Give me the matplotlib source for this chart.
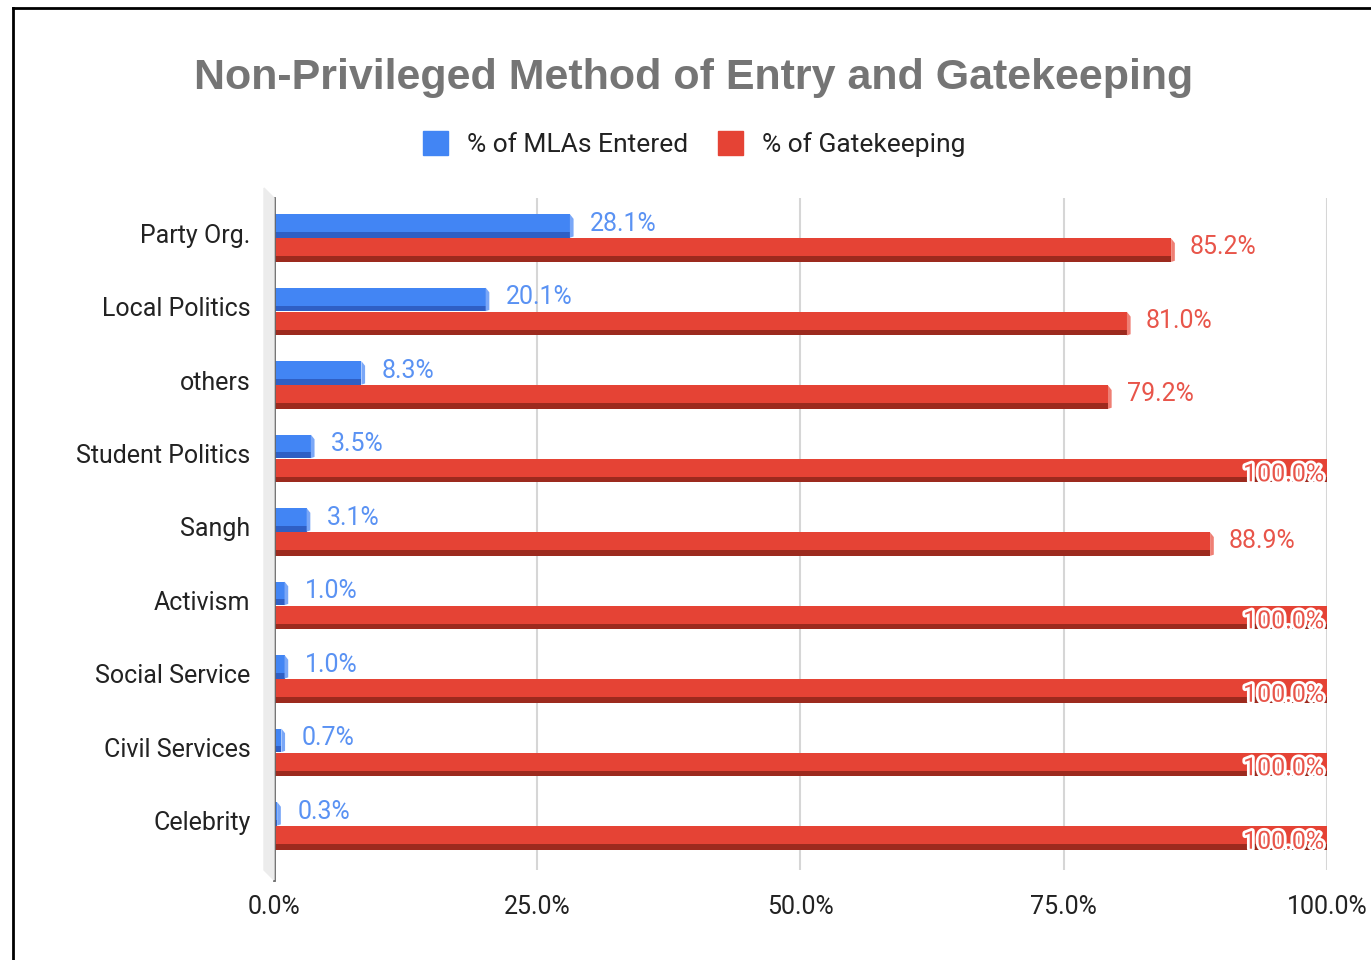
import matplotlib
matplotlib.use("Agg")
import matplotlib.pyplot as plt
import matplotlib.patheffects as pe
import matplotlib.transforms as mtransforms
from matplotlib.patches import Polygon
from matplotlib.lines import Line2D

categories = ["Party Org.", "Local Politics", "others", "Student Politics", "Sangh",
              "Activism", "Social Service", "Civil Services", "Celebrity"]
mlas_entered = [28.1, 20.1, 8.3, 3.5, 3.1, 1.0, 1.0, 0.7, 0.3]
gatekeeping = [85.2, 81.0, 79.2, 100.0, 88.9, 100.0, 100.0, 100.0, 100.0]
x_ticks = [0, 25, 50, 75, 100]

BLUE, BLUE_DARK, BLUE_CAP, BLUE_TXT = "#4285f4", "#2f5fc4", "#7aa7f7", "#5a92f3"
RED, RED_DARK, RED_CAP, RED_TXT = "#e54335", "#9c2a1e", "#ef7f74", "#e8554a"

plt.rcParams["font.family"] = ["Roboto", "DejaVu Sans"]

fig = plt.figure(figsize=(13.71, 9.6), dpi=100)
ax = fig.add_axes([274 / 1371, 1 - 870 / 960, (1327 - 274) / 1371, (870 - 198) / 960])

H = 0.32
OFF = 0.165
y = list(range(len(categories)))


def bar3d(ax, ys, vals, color, dark, cap):
    ax.barh(ys, vals, height=H, color=color, linewidth=0, zorder=3)
    # darker lower edge gives the bars some depth
    ax.barh([v + H * 0.5 - H * 0.12 for v in ys], vals, height=H * 0.24,
            color=dark, linewidth=0, zorder=4)
    for yy, v in zip(ys, vals):
        top, bot = yy - H / 2, yy + H / 2
        ax.add_patch(Polygon([(v, top), (v + 0.35, top + H * 0.2), (v + 0.35, bot - H * 0.05), (v, bot)],
                             closed=True, color=cap, linewidth=0, zorder=4))


yb = [v - OFF for v in y]
yr = [v + OFF for v in y]
bar3d(ax, yb, mlas_entered, BLUE, BLUE_DARK, BLUE_CAP)
bar3d(ax, yr, gatekeeping, RED, RED_DARK, RED_CAP)

for yy, v in zip(yb, mlas_entered):
    ax.text(v + 1.9, yy - 0.03, f"{v:.1f}%", color=BLUE_TXT, fontsize=18,
            va="center", ha="left", zorder=6)
for yy, v in zip(yr, gatekeeping):
    if v >= 99.9:
        ax.text(99.7, yy + 0.05, f"{v:.1f}%", color=RED_TXT, fontsize=18,
                va="center", ha="right", zorder=6,
                path_effects=[pe.withStroke(linewidth=4, foreground="white")])
    else:
        ax.text(v + 1.8, yy - 0.04, f"{v:.1f}%", color=RED_TXT, fontsize=18,
                va="center", ha="left", zorder=6)

ax.set_xlim(0, 100)
ax.set_ylim(len(categories) - 1 + 0.6, -0.545)
ax.set_xticks(x_ticks)
ax.set_xticklabels([f"{t:.1f}%" for t in x_ticks], fontsize=18, color="#222222")
ax.set_yticks(y)
ax.set_yticklabels(categories, fontsize=18, color="#222222")
ax.tick_params(axis="x", length=0, pad=18)
ax.tick_params(axis="y", length=0, pad=17)
# category names sit a little above the middle of each bar pair
shift = mtransforms.ScaledTranslation(0, 5 / 100, fig.dpi_scale_trans)
for lbl in ax.get_yticklabels():
    lbl.set_transform(lbl.get_transform() + shift)
for s in ax.spines.values():
    s.set_visible(False)
ax.grid(axis="x", color="#d6d6d6", linewidth=1.5, zorder=0)
ax.axvline(0, color="#666666", linewidth=2, zorder=5, ymin=-0.015, clip_on=False)

# floor strip on the left of the axis
fig.patches.append(Polygon([(264 / 1371, 1 - 188 / 960), (274 / 1371, 1 - 198 / 960),
                            (274 / 1371, 1 - 880 / 960), (264 / 1371, 1 - 870 / 960)],
                           closed=True, transform=fig.transFigure, color="#ececec", zorder=0))

fig.text(694 / 1371, 1 - 78 / 960, "Non-Privileged Method of Entry and Gatekeeping",
         family=["Liberation Sans", "DejaVu Sans"], fontweight="bold", fontsize=31,
         color="#757575", ha="center", va="center")

handles = [plt.Rectangle((0, 0), 1, 1, color=BLUE), plt.Rectangle((0, 0), 1, 1, color=RED)]
fig.legend(handles, ["% of MLAs Entered", "% of Gatekeeping"], loc="center",
           bbox_to_anchor=(694 / 1371, 1 - 144 / 960), ncol=2, frameon=False,
           fontsize=19, handlelength=0.95, handleheight=1.0, columnspacing=1.15,
           handletextpad=0.7, labelcolor="#222222")

# outer frame
fig.add_artist(Line2D([13 / 1371, 13 / 1371], [0, 1 - 8 / 960], color="black", linewidth=2,
                      transform=fig.transFigure))
fig.add_artist(Line2D([13 / 1371, 1], [1 - 8 / 960, 1 - 8 / 960], color="black", linewidth=2,
                      transform=fig.transFigure))

fig.savefig("out.png", dpi=100, facecolor="white")
